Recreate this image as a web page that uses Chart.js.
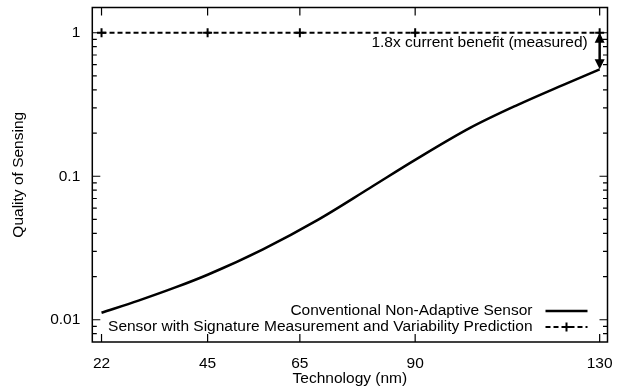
<!DOCTYPE html>
<html>
<head>
<meta charset="utf-8">
<script src="https://cdn.jsdelivr.net/npm/chart.js@4.4.1/dist/chart.umd.min.js"></script>
<style>
  html, body { margin: 0; padding: 0; background: #fff; }
</style>
</head>
<body>
<canvas id="quality" width="623" height="389"></canvas>
<script>
// technology nodes (nm) and the values
const techNodes = [22, 45, 65, 90, 130];
const conventionalNodes = [22, 30, 38, 45, 57, 69, 80, 90, 102, 112, 122, 130];
const conventionalQuality = [0.0112, 0.0136, 0.0168, 0.0206, 0.0310, 0.0499, 0.0822, 0.130, 0.218, 0.312, 0.432, 0.556];
const signatureQuality = [1, 1, 1, 1, 1];
const yTickValues = [0.01, 0.1, 1];
const yMinorValues = [0.008, 0.009, 0.02, 0.03, 0.04, 0.05, 0.06, 0.07, 0.08, 0.09,
                      0.2, 0.3, 0.4, 0.5, 0.6, 0.7, 0.8, 0.9];
const seriesLabels = ['Conventional Non-Adaptive Sensor',
                      'Sensor with Signature Measurement and Variability Prediction'];
const benefitNote = '1.8x current benefit (measured)';

const FONT = '"Liberation Sans", Arial, Helvetica, sans-serif';
const FONT_SIZE = 15.5;
Chart.defaults.font.family = FONT;
Chart.defaults.font.size = FONT_SIZE;
Chart.defaults.color = '#000';

// gnuplot style border, inward ticks, key and arrow
const gnuplotFrame = {
  id: 'gnuplotFrame',
  afterDatasetsDraw(chart) {
    const {ctx, chartArea: a, scales: {x, y}} = chart;
    ctx.save();
    ctx.strokeStyle = '#000';
    ctx.lineWidth = 1.5;
    ctx.strokeRect(a.left, a.top, a.right - a.left, a.bottom - a.top);

    ctx.lineWidth = 1.2;
    ctx.beginPath();
    techNodes.forEach(v => {
      const px = x.getPixelForValue(v);
      ctx.moveTo(px, a.bottom); ctx.lineTo(px, a.bottom - 8);
      ctx.moveTo(px, a.top); ctx.lineTo(px, a.top + 8);
    });
    yTickValues.forEach(v => {
      const py = y.getPixelForValue(v);
      ctx.moveTo(a.left, py); ctx.lineTo(a.left + 8, py);
      ctx.moveTo(a.right, py); ctx.lineTo(a.right - 8, py);
    });
    yMinorValues.forEach(v => {
      const py = y.getPixelForValue(v);
      ctx.moveTo(a.left, py); ctx.lineTo(a.left + 4.5, py);
      ctx.moveTo(a.right, py); ctx.lineTo(a.right - 4.5, py);
    });
    ctx.stroke();

    // key, bottom right
    ctx.font = FONT_SIZE + 'px ' + FONT;
    ctx.fillStyle = '#000';
    ctx.textAlign = 'right';
    ctx.textBaseline = 'middle';
    const s0 = a.right - 62, s1 = a.right - 20;
    chart.data.datasets.forEach((ds, i) => {
      const yy = a.bottom - 31 + i * 16;
      ctx.fillText(ds.label, s0 - 13, yy);
      ctx.setLineDash(ds.borderDash || []);
      ctx.lineWidth = ds.borderWidth;
      ctx.beginPath(); ctx.moveTo(s0, yy); ctx.lineTo(s1, yy); ctx.stroke();
      ctx.setLineDash([]);
      if (ds.pointRadius > 0) {
        const m = (s0 + s1) / 2, r = ds.pointRadius;
        ctx.lineWidth = ds.pointBorderWidth;
        ctx.beginPath();
        ctx.moveTo(m - r, yy); ctx.lineTo(m + r, yy);
        ctx.moveTo(m, yy - r); ctx.lineTo(m, yy + r);
        ctx.stroke();
      }
    });

    // double arrow between the two curves at 130nm
    const last = techNodes[techNodes.length - 1];
    const ax = x.getPixelForValue(last);
    const yTop = y.getPixelForValue(signatureQuality[signatureQuality.length - 1]);
    const yBot = y.getPixelForValue(conventionalQuality[conventionalQuality.length - 1]);
    const hl = 10, hw = 5;
    ctx.lineWidth = 2.5;
    ctx.beginPath(); ctx.moveTo(ax, yTop + hl - 1); ctx.lineTo(ax, yBot - hl + 1); ctx.stroke();
    ctx.beginPath();
    ctx.moveTo(ax, yTop); ctx.lineTo(ax - hw, yTop + hl); ctx.lineTo(ax + hw, yTop + hl); ctx.closePath();
    ctx.moveTo(ax, yBot); ctx.lineTo(ax - hw, yBot - hl); ctx.lineTo(ax + hw, yBot - hl); ctx.closePath();
    ctx.fill();

    ctx.textAlign = 'right';
    ctx.fillText(benefitNote, ax - 12, y.getPixelForValue(0.85));
    ctx.restore();
  }
};

new Chart(document.getElementById('quality'), {
  type: 'line',
  data: {
    datasets: [{
      label: seriesLabels[0],
      data: conventionalNodes.map((n, i) => ({x: n, y: conventionalQuality[i]})),
      borderColor: '#000',
      borderWidth: 2.5,
      pointRadius: 0,
      cubicInterpolationMode: 'monotone',
      fill: false
    }, {
      label: seriesLabels[1],
      data: techNodes.map((n, i) => ({x: n, y: signatureQuality[i]})),
      borderColor: '#000',
      backgroundColor: '#000',
      borderWidth: 2,
      borderDash: [5, 3],
      pointStyle: 'cross',
      pointRadius: 4.5,
      pointBorderWidth: 2,
      pointBorderColor: '#000',
      fill: false
    }]
  },
  options: {
    responsive: false,
    animation: false,
    layout: { padding: { top: 7.5, right: 15.5, bottom: 0, left: 0 } },
    plugins: {
      legend: { display: false },
      tooltip: { enabled: false }
    },
    scales: {
      x: {
        type: 'linear',
        min: 20,
        max: 131.7,
        afterBuildTicks: s => { s.ticks = techNodes.map(v => ({value: v})); },
        afterFit: s => { s.height = 47; s.paddingLeft = 0; s.paddingRight = 0; },
        ticks: { padding: 12, maxRotation: 0, autoSkip: false, callback: v => String(v) },
        grid: { display: false, drawTicks: false },
        border: { display: false },
        title: { display: true, text: 'Technology (nm)', padding: { top: 0, bottom: 1 } }
      },
      y: {
        type: 'logarithmic',
        min: 0.007,
        max: 1.5,
        afterBuildTicks: s => { s.ticks = yTickValues.map(v => ({value: v})); },
        afterFit: s => { s.width = 92.3; s.paddingTop = 0; s.paddingBottom = 0; },
        ticks: { padding: 12, autoSkip: false, callback: v => String(v) },
        grid: { display: false, drawTicks: false },
        border: { display: false },
        title: { display: true, text: 'Quality of Sensing', padding: { top: 9, bottom: 0 } }
      }
    }
  },
  plugins: [gnuplotFrame]
});
</script>
</body>
</html>
